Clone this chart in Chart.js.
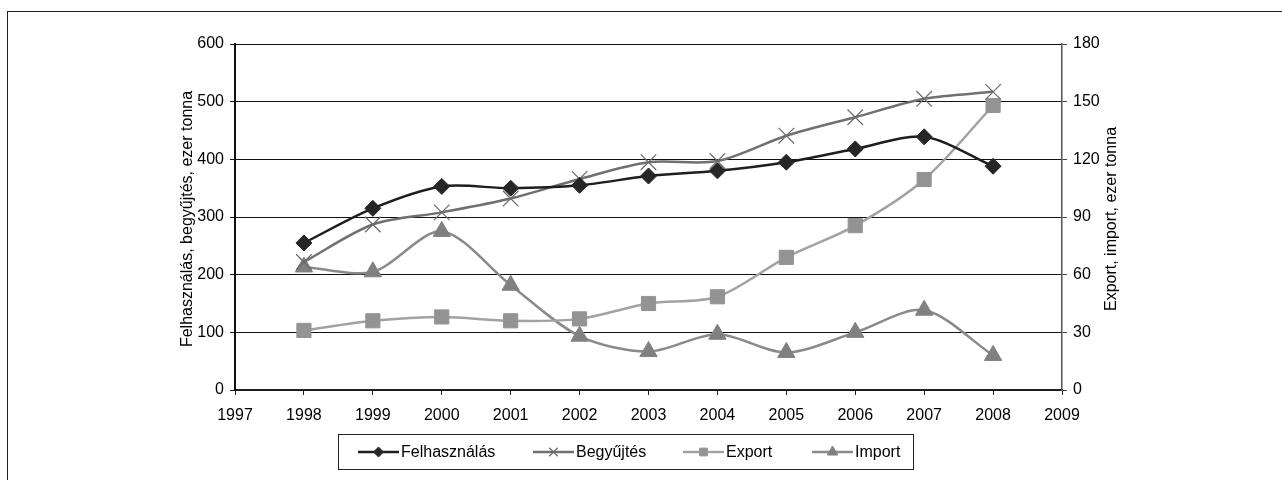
<!DOCTYPE html>
<html lang="hu">
<head>
<meta charset="utf-8">
<title>Felhasználás, begyűjtés, export, import</title>
<script src="https://cdn.jsdelivr.net/npm/chart.js@4.4.1/dist/chart.umd.min.js"></script>
<style>
  html, body { margin: 0; padding: 0; background: #fff; overflow: hidden; }
  #wrap { position: relative; width: 1282px; height: 480px; }
  #frame {
    position: absolute; left: 7px; top: 11px; width: 1400px; height: 600px;
    border-top: 1.5px solid #222; border-left: 1.5px solid #222; pointer-events: none;
  }
  canvas { position: absolute; left: 0; top: 0; }
</style>
</head>
<body>
<div id="wrap">
  <canvas id="chart" width="1282" height="480"></canvas>
  <div id="frame"></div>
</div>
<script>
// years on the x axis
const years = [1998, 1999, 2000, 2001, 2002, 2003, 2004, 2005, 2006, 2007, 2008];
// left axis, ezer tonna
const felhasznalas = [255, 315, 353, 350, 355, 371, 380, 395, 418, 439, 388];
const begyujtes = [222, 287, 308, 332, 366, 395, 397, 441, 473, 505, 517];
// right axis, ezer tonna
const exportVals = [31, 36, 38, 36, 37, 45, 48.5, 69, 85.5, 109.5, 148];
const importVals = [64, 61.5, 82.5, 54.5, 28, 20, 29, 19.5, 30, 41.5, 18];

const leftTitle = "Felhasználás, begyűjtés, ezer tonna";
const rightTitle = "Export, import, ezer tonna";

const FONT = "'Liberation Sans', Arial, sans-serif";

function pts(vals) {
  return vals.map((v, i) => ({ x: years[i], y: v }));
}

// axis titles both read bottom-to-top, as in the Excel original
const axisTitles = {
  id: "axisTitles",
  afterDraw(chart) {
    const ctx = chart.ctx;
    const midY = (chart.chartArea.top + chart.chartArea.bottom) / 2;
    ctx.save();
    ctx.fillStyle = "#000";
    ctx.font = "16px " + FONT;
    ctx.textAlign = "center";
    ctx.textBaseline = "middle";
    [[188, leftTitle], [1112, rightTitle]].forEach(([x, t]) => {
      ctx.save();
      ctx.translate(x, midY + 2);
      ctx.rotate(-Math.PI / 2);
      ctx.fillText(t, 0, 0);
      ctx.restore();
    });
    ctx.restore();
  },
};

// Excel-style legend: box with a short line + marker before each label
const boxLegend = {
  id: "boxLegend",
  afterDraw(chart) {
    const ctx = chart.ctx;
    const bx = 338, by = 434, bw = 575, bh = 35;
    ctx.save();
    ctx.strokeStyle = "#222";
    ctx.lineWidth = 1;
    ctx.strokeRect(bx + 0.5, by + 0.5, bw, bh);
    const starts = [358, 533, 683, 812];
    const markR = [5, 6, 5.5, 6];
    ctx.font = "16px " + FONT;
    ctx.textBaseline = "middle";
    chart.data.datasets.forEach((ds, i) => {
      const x0 = starts[i];
      const cy = by + bh / 2 + 0.5;
      ctx.strokeStyle = ds.borderColor;
      ctx.lineWidth = 2.5;
      ctx.beginPath();
      ctx.moveTo(x0, cy);
      ctx.lineTo(x0 + 41, cy);
      ctx.stroke();
      ctx.fillStyle = ds.pointBackgroundColor;
      ctx.strokeStyle = ds.pointBorderColor;
      ctx.lineWidth = ds.pointBorderWidth;
      Chart.helpers.drawPoint(ctx, {
        pointStyle: ds.pointStyle,
        radius: markR[i],
        borderWidth: ds.pointBorderWidth,
        rotation: 0,
      }, x0 + 20.5, cy);
      ctx.fillStyle = "#000";
      ctx.fillText(ds.label, x0 + 43, cy + 1);
    });
    ctx.restore();
  },
};

function styleDs(label, data, axis, color, markColor, style, r, bw) {
  return {
    label,
    data: pts(data),
    yAxisID: axis,
    borderColor: color,
    borderWidth: 2.5,
    tension: 0.3,
    pointStyle: style,
    pointRadius: r,
    pointHoverRadius: r,
    pointBackgroundColor: markColor,
    pointBorderColor: markColor,
    pointBorderWidth: bw,
    backgroundColor: markColor,
  };
}

const tickFont = { family: FONT, size: 16 };

new Chart(document.getElementById("chart"), {
  type: "line",
  data: {
    datasets: [
      styleDs("Felhasználás", felhasznalas, "y", "#1e1e1e", "#262626", "rectRot", 8, 1),
      styleDs("Begyűjtés", begyujtes, "y", "#707070", "#6a6a6a", "crossRot", 11, 1.2),
      styleDs("Export", exportVals, "y1", "#a2a2a2", "#939393", "rect", 10, 1),
      styleDs("Import", importVals, "y1", "#8a8a8a", "#808080", "triangle", 10, 1),
    ],
  },
  options: {
    responsive: false,
    animation: false,
    layout: { padding: { left: 175, right: 158, top: 44, bottom: 50 } },
    plugins: { legend: { display: false }, tooltip: { enabled: false } },
    scales: {
      x: {
        type: "linear",
        min: 1997,
        max: 2009,
        afterFit: (s) => { s.height = 40; },
        ticks: {
          stepSize: 1,
          color: "#000",
          font: tickFont,
          padding: 11,
          maxRotation: 0,
          callback: (v) => String(v),
        },
        grid: { drawOnChartArea: false, drawTicks: true, tickLength: 5, color: "#222", lineWidth: 1 },
        border: { color: "#222", width: 1.5 },
      },
      y: {
        position: "left",
        min: 0,
        max: 600,
        afterFit: (s) => { s.width = 60; },
        ticks: { stepSize: 100, color: "#000", font: tickFont, padding: 6 },
        grid: { color: "#111", lineWidth: 1, tickLength: 5 },
        border: { color: "#111", width: 2 },
      },
      y1: {
        position: "right",
        min: 0,
        max: 180,
        afterFit: (s) => { s.width = 62; },
        ticks: { stepSize: 30, color: "#000", font: tickFont, padding: 6 },
        grid: { drawOnChartArea: false, tickLength: 5, color: "#444" },
        border: { color: "#555", width: 1.5 },
      },
    },
  },
  plugins: [axisTitles, boxLegend],
});
</script>
</body>
</html>
